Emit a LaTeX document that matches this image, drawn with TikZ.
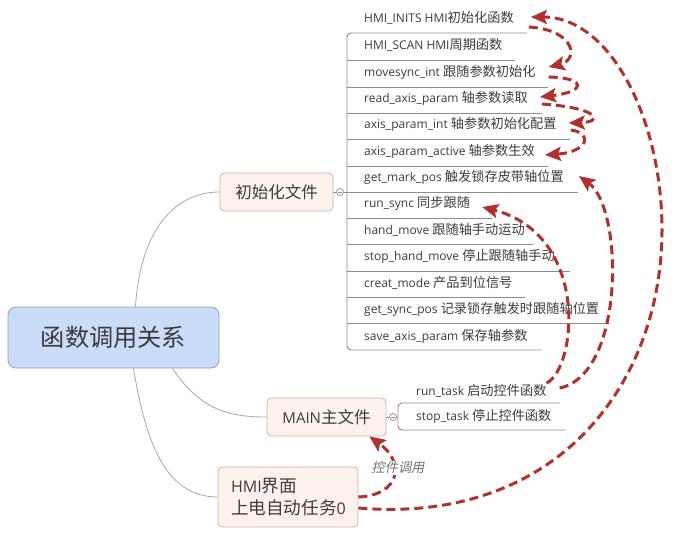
\documentclass[tikz,border=0pt]{standalone}
\usepackage{fontspec}
\setmainfont{Open Sans}
\newfontfamily\cjk[Scale=1.1]{Noto Sans CJK SC}
\newfontfamily\cjkit[Scale=1.1,FakeSlant=0.2]{Noto Sans CJK SC}
\newcommand\zhs[1]{{\cjk #1}}
\usetikzlibrary{arrows.meta,calc}
\definecolor{txt}{HTML}{3C3C3C}
\definecolor{redarr}{HTML}{B3302C}
\definecolor{lineg}{HTML}{8C8C8C}
\definecolor{conng}{HTML}{A8A8A8}
\definecolor{rootfill}{HTML}{C9DCF8}
\definecolor{rootdraw}{HTML}{8DA2C9}
\definecolor{l1fill}{HTML}{FDF2EB}
\definecolor{l1draw}{HTML}{C9B9AD}
\begin{document}
\begin{tikzpicture}[x=1pt,y=-1pt,
  item/.style={anchor=west, inner sep=0pt, text=txt, font=\fontsize{12}{14}\selectfont, text height=9pt, text depth=3pt},
  listline/.style={draw=lineg, line width=0.9pt},
  conn/.style={draw=conng, line width=0.8pt},
  rootbox/.style={draw=rootdraw, fill=rootfill, rounded corners=8pt, line width=0.8pt, text=txt, font=\fontsize{22}{26}\selectfont, minimum width=211pt, minimum height=61pt},
  l1box/.style={draw=l1draw, fill=l1fill, rounded corners=4pt, line width=0.8pt, text=txt, font=\fontsize{15}{18}\selectfont},
  collapse/.style={circle, draw=lineg, fill=white, line width=0.7pt, inner sep=0pt, minimum size=7pt},
  redarrow/.style={draw=redarr, line width=3pt, dash pattern=on 9pt off 5pt, -{Stealth[length=16pt,width=14pt,inset=3pt]}}
]
\useasboundingbox (0,0) rectangle (680,540);
\fill[white] (0,0) rectangle (680,540);

% main nodes
\node[rootbox] (root) at (113.5,337.5) {\zhs{函数调用关系}};
\node[l1box, minimum width=113pt, minimum height=38pt] (init) at (276.5,192) {\zhs{初始化文件}};
\node[l1box, minimum width=119pt, minimum height=38pt] (main) at (326.5,417) {MAIN\zhs{主文件}};
\node[l1box, minimum width=140pt, minimum height=60pt, text width=114pt, align=left, font=\fontsize{16}{22}\selectfont] (hmi) at (288,497) {HMI\zhs{界面}\\\zhs{上电自动任务}0};

% root connectors
\draw[conn] ($(root.north)+(22,0)$) .. controls +(5,-77) and +(-45,0) .. (init.west);
\draw[conn] ($(root.south)+(59,0)$) .. controls +(28,42) and +(-37,0) .. (main.west);
\draw[conn] ($(root.south)+(20,0)$) .. controls +(12,72) and +(-53,0) .. (hmi.west);

% list frame of init
\draw[listline, rounded corners=4pt] (527,33) -- (347,33) -- (347,350) -- (542,350);
\foreach \yy/\xx in {60/515, 87/548, 113/542, 139/570, 166/548, 192/578, 218/492, 244/533, 271/570, 297/525, 323/610}
  \draw[listline] (347,\yy) -- (\xx,\yy);
\draw[listline] (init.east) -- (347,192);
\node[collapse] (c1) at (340,192) {};
\draw[lineg, line width=0.7pt] ($(c1)+(-2,0)$) -- ($(c1)+(2,0)$);

% list frame of main
\draw[listline, rounded corners=4pt] (560,403) -- (398,403) -- (398,430) -- (565,430);
\draw[listline] (main.east) -- (398,417);
\node[collapse] (c2) at (393,417) {};
\draw[lineg, line width=0.7pt] ($(c2)+(-2,0)$) -- ($(c2)+(2,0)$);

% items
\node[item] (i1) at (364,20) {HMI\_INITS HMI\zhs{初始化函数}};
\node[item] (i2) at (364,47) {HMI\_SCAN HMI\zhs{周期函数}};
\node[item] (i3) at (364,74) {movesync\_int \zhs{跟随参数初始化}};
\node[item] (i4) at (364,100) {read\_axis\_param \zhs{轴参数读取}};
\node[item] (i5) at (364,126) {axis\_param\_int \zhs{轴参数初始化配置}};
\node[item] (i6) at (364,153) {axis\_param\_active \zhs{轴参数生效}};
\node[item] (i7) at (364,179) {get\_mark\_pos \zhs{触发锁存皮带轴位置}};
\node[item] (i8) at (364,205) {run\_sync \zhs{同步跟随}};
\node[item] (i9) at (364,231) {hand\_move \zhs{跟随轴手动运动}};
\node[item] (i10) at (364,258) {stop\_hand\_move \zhs{停止跟随轴手动}};
\node[item] (i11) at (364,284) {creat\_mode \zhs{产品到位信号}};
\node[item] (i12) at (364,310) {get\_sync\_pos \zhs{记录锁存触发时跟随轴位置}};
\node[item] (i13) at (364,337) {save\_axis\_param \zhs{保存轴参数}};
\node[item] (rt) at (416,392) {run\_task \zhs{启动控件函数}};
\node[item] (st) at (416,417) {stop\_task \zhs{停止控件函数}};

% red dashed arrows
\coordinate (bigmid) at (662,230);
\draw[redarrow] ($(i1.east)+(15,7)$) .. controls +(47,3) and +(30,-7) .. ($(i3.east)+(13,-7)$);
\draw[redarrow] ($(i3.east)+(13,3)$) .. controls +(40,1) and +(45,-5) .. ($(i4.east)+(12,-3)$);
\draw[redarrow] ($(i4.east)+(14,4)$) .. controls +(58,4) and +(35,-1) .. ($(i5.east)+(12,-3)$);
\draw[redarrow] ($(i5.east)+(14,4)$) .. controls +(23,3) and +(43,-3) .. ($(i6.east)+(10,2)$);
\draw[redarrow] ($(hmi.east)+(0,11)$) .. controls +(202,17) and +(0,150) .. (bigmid)
   .. controls +(0,-110) and +(80,0) .. ($(i1.east)+(17,-3)$);
\draw[redarrow] ($(rt.east)+(0,-9)$) .. controls +(30,-15) and +(108,28) .. ($(i8.east)+(12,2)$);
\draw[redarrow] ($(rt.east)+(13,-4)$) .. controls +(65,-13) and +(45,33) .. ($(i7.east)+(15,-3)$);
\draw[redarrow] (hmi.east) .. controls +(42,-2) and +(36,26) .. ($(main.south east)+(-17,0)$);
\node[font={\fontsize{12}{14}\selectfont\cjkit}, text=black!55, fill=white, inner sep=1pt] (lbl) at (398,468) {控件调用};
\end{tikzpicture}
\end{document}
